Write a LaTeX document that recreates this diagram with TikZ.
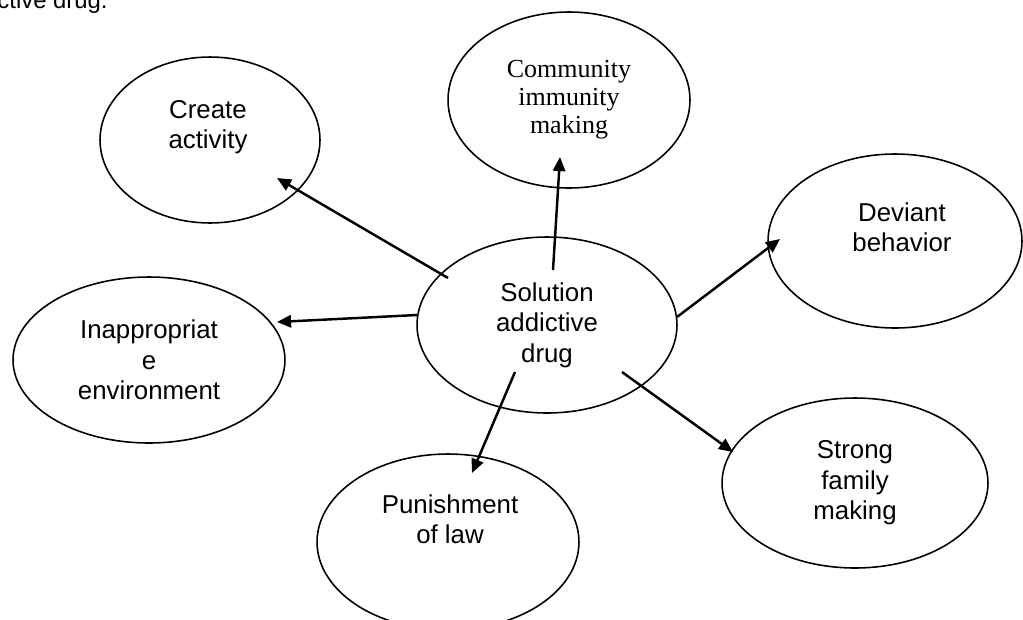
\documentclass[tikz,border=0pt]{standalone}
\usepackage{fontspec}
\setmainfont{Liberation Sans}
\newfontfamily\serifbody{Liberation Serif}
\usetikzlibrary{shapes.geometric, arrows.meta}

\tikzset{
  bubble/.style={draw, ellipse, line width=0.9pt, inner sep=0pt, align=center,
                 font=\fontsize{14.7}{17.3}\selectfont},
  txt/.style={inner sep=0pt, align=center, font=\fontsize{14.7}{17.3}\selectfont},
  link/.style={line width=1.4pt, -{Triangle[length=8pt, width=7pt]}}
}

\begin{document}
\begin{tikzpicture}[x=0.02cm, y=-0.02cm]
    \useasboundingbox (0,0) rectangle (1023,619);

    % Cut-off line of text above the figure
    \node [txt, anchor=base east, font=\fontsize{13.6}{16}\selectfont] (caption) at (108,8) {ctive drug.};

    % Solution addictive drug
    \node [bubble, minimum width=5.2cm, minimum height=3.52cm] (sol) at (547,325) {Solution\\addictive\\drug};

    % Create activity
    \node [bubble, minimum width=4.4cm, minimum height=3.32cm] (create) at (210,140) {};
    \node [txt] (createtxt) at ([shift={(-2,-13)}]create.center) {Create\\activity};

    % Community immunity making
    \node [bubble, minimum width=4.84cm, minimum height=3.52cm,
           font=\serifbody\fontsize{14.8}{16}\selectfont] (comm) at (569,100) {Community\\immunity\\making};

    % Deviant behavior
    \node [bubble, minimum width=5.08cm, minimum height=3.48cm] (deviant) at (895,241) {};
    \node [txt] (devianttxt) at ([shift={(7,-14)}]deviant.center) {Deviant\\behavior};

    % Inappropriate environment
    \node [bubble, minimum width=5.44cm, minimum height=3.32cm] (inapp) at (149,360) {Inappropriat\\e\\environment};

    % Punishment of law
    \node [bubble, minimum width=5.24cm, minimum height=3.52cm] (punish) at (448,542) {};
    \node [txt] (punishtxt) at ([shift={(2,-23)}]punish.center) {Punishment\\of law};

    % Strong family making
    \node [bubble, minimum width=5.32cm, minimum height=3.4cm] (strong) at (855,483) {Strong\\family\\making};

    % Edges
    \draw [link] ([shift={(-99,-47)}]sol.center) -- ([shift={(67,38)}]create.center);
    \draw [link] ([shift={(6,-55)}]sol.center) -- ([shift={(-9,57)}]comm.center);
    \draw [link] ([shift={(-130,-10)}]sol.center) -- ([shift={(128,-38)}]inapp.center);
    \draw [link] ([shift={(-32,47)}]sol.center) -- ([shift={(24,-69)}]punish.center);
    \draw [link] ([shift={(130,-8)}]sol.center) -- ([shift={(-115,-2)}]deviant.center);
    \draw [link] ([shift={(75,47)}]sol.center) -- ([shift={(-122,-31)}]strong.center);
\end{tikzpicture}
\end{document}
